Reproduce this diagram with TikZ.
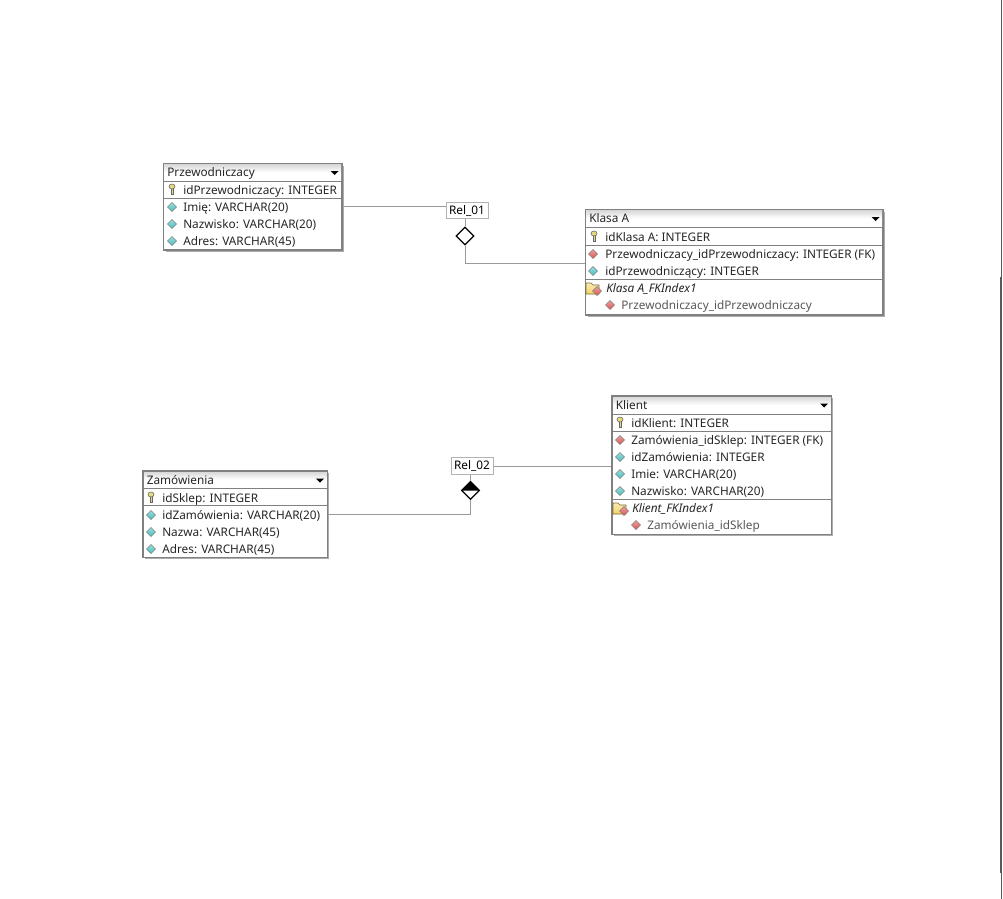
\documentclass[tikz,border=0pt]{standalone}
\usepackage{fontspec}
\setmainfont{Noto Sans}
\usetikzlibrary{fit,shapes.geometric}
\definecolor{attrcol}{HTML}{48C0C0}
\definecolor{fkcol}{HTML}{DC5450}
\definecolor{keycol}{HTML}{E4D880}
\definecolor{foldercol}{HTML}{F4D468}
\definecolor{linecol}{HTML}{9A9A9A}

\newcommand{\attricon}[3]{\draw[top color=#3!55, bottom color=#3, draw=gray, line width=0.4pt] (#1-4.5,#2) -- (#1,#2-4.5) -- (#1+4.5,#2) -- (#1,#2+4.5) -- cycle;}
\newcommand{\keyicon}[2]{\draw[fill=keycol, draw=black!60, line width=0.4pt] (#1-1.2,#2-1) -- (#1-1.2,#2+5) -- (#1+1.2,#2+5) -- (#1+1.2,#2-1) -- cycle; \draw[fill=keycol, draw=black!60, line width=0.4pt] (#1,#2-2.5) ellipse (3 and 2.5);}
\newcommand{\foldericon}[2]{\draw[top color=foldercol!50, bottom color=foldercol, draw=black!50!foldercol, line width=0.4pt] (#1-7,#2-5) -- (#1-2,#2-5) -- (#1,#2-3) -- (#1+6,#2-3) -- (#1+6,#2+6) -- (#1-7,#2+6) -- cycle; \attricon{#1+4}{#2+3}{fkcol}}

% name, left, top, right, bottom, title bottom, title
\newcommand{\dbtable}[7]{
  \fill[gray!65] (#2+2,#3+2) rectangle (#4+1.7,#5+1.7);
  \node[tablebox, fit={(#2,#3) (#4,#5)}] (#1) {};
  \shade[top color=gray!30, bottom color=white, middle color=white] (#2+1,#3+1) rectangle (#4-1,#6-1);
  \draw[sepline] (#2,#6) -- (#4,#6);
  \node[rowtext] (#1title) at (#2+3.5,#3+9.5) {#7};
  \fill (#4-11.5,#3+7.5) -- (#4-3.5,#3+7.5) -- (#4-7.5,#3+11.5) -- cycle;
}
\newcommand{\dbrow}[5]{\node[rowtext, #5] (#1) at (#2,#3) {#4};}

\begin{document}
\begin{tikzpicture}[x=0.75pt, y=-0.75pt,
        tablebox/.style = {draw=gray, line width=0.8pt, fill=white, inner sep=0pt},
        rowtext/.style = {anchor=west, inner sep=0pt, text height=7.5pt, text depth=2pt, font=\fontsize{8.85}{10}\selectfont, text=black!85},
        childtext/.style = {text=black!65},
        idxtext/.style = {font=\fontsize{8.85}{10}\selectfont\itshape},
        sepline/.style = {draw=gray, line width=0.6pt},
        relline/.style = {draw=linecol, line width=0.75pt},
        relbox/.style = {draw=gray!60, line width=0.75pt, fill=white, minimum width=31.5pt, minimum height=12.5pt, inner sep=0pt, font=\fontsize{8.85}{10}\selectfont},
        reldiamond/.style = {diamond, draw=black, line width=1pt, fill=white, minimum width=13.5pt, minimum height=13.5pt, inner sep=0pt, aspect=1}]
  \useasboundingbox (0,0) rectangle (1003,899);
  \fill[white] (0,0) rectangle (1003,899);

  % Przewodniczacy
  \dbtable{przew}{163.5}{163.5}{342}{250}{181}{Przewodniczacy}
  \draw[sepline] (163.5,198) -- (342,198);
  \keyicon{172}{189}
  \dbrow{przewId}{183}{190.5}{idPrzewodniczacy: INTEGER}{}
  \attricon{172}{207}{attrcol}
  \dbrow{przewImie}{183}{207.5}{Imię: VARCHAR(20)}{}
  \attricon{172}{224}{attrcol}
  \dbrow{przewNazw}{183}{224.5}{Nazwisko: VARCHAR(20)}{}
  \attricon{172}{241}{attrcol}
  \dbrow{przewAdr}{183}{241.5}{Adres: VARCHAR(45)}{}

  % Klasa A
  \dbtable{klasa}{585.5}{209.5}{883}{315}{227}{Klasa A}
  \draw[sepline] (585.5,245) -- (883,245);
  \draw[sepline] (585.5,279) -- (883,279);
  \keyicon{594}{236}
  \dbrow{klasaId}{605}{237.5}{idKlasa A: INTEGER}{}
  \attricon{593}{254}{fkcol}
  \dbrow{klasaFk}{605}{254.5}{Przewodniczacy\_idPrzewodniczacy: INTEGER (FK)}{}
  \attricon{593}{271}{attrcol}
  \dbrow{klasaPrz}{605}{271.5}{idPrzewodniczący: INTEGER}{}
  \foldericon{593}{288}
  \dbrow{klasaIdx}{606}{288.5}{Klasa A\_FKIndex1}{idxtext}
  \attricon{610}{305}{fkcol}
  \dbrow{klasaCol}{621}{305.5}{Przewodniczacy\_idPrzewodniczacy}{childtext}

  % Zamowienia
  \dbtable{zam}{143}{471}{327.5}{557.5}{488}{Zamówienia}
  \draw[sepline] (143,505.5) -- (327.5,505.5);
  \keyicon{151}{497}
  \dbrow{zamId}{162}{498.5}{idSklep: INTEGER}{}
  \attricon{151}{515}{attrcol}
  \dbrow{zamZam}{162}{515.5}{idZamówienia: VARCHAR(20)}{}
  \attricon{151}{532}{attrcol}
  \dbrow{zamNazwa}{162}{532.5}{Nazwa: VARCHAR(45)}{}
  \attricon{151}{549}{attrcol}
  \dbrow{zamAdr}{162}{549.5}{Adres: VARCHAR(45)}{}

  % Klient
  \dbtable{klient}{612}{396}{831.5}{534.5}{414}{Klient}
  \draw[sepline] (612,431.5) -- (831.5,431.5);
  \draw[sepline] (612,499) -- (831.5,499);
  \keyicon{620}{422}
  \dbrow{klientId}{631}{423.5}{idKlient: INTEGER}{}
  \attricon{620}{440}{fkcol}
  \dbrow{klientFk}{631}{440.5}{Zamówienia\_idSklep: INTEGER (FK)}{}
  \attricon{620}{457}{attrcol}
  \dbrow{klientZam}{631}{457.5}{idZamówienia: INTEGER}{}
  \attricon{620}{474}{attrcol}
  \dbrow{klientImie}{631}{474.5}{Imie: VARCHAR(20)}{}
  \attricon{620}{491}{attrcol}
  \dbrow{klientNazw}{631}{491.5}{Nazwisko: VARCHAR(20)}{}
  \foldericon{620}{508}
  \dbrow{klientIdx}{632}{508.5}{Klient\_FKIndex1}{idxtext}
  \attricon{636}{525}{fkcol}
  \dbrow{klientCol}{647}{525.5}{Zamówienia\_idSklep}{childtext}

  % relations
  \node[relbox] (rel01) at (467,210.5) {Rel\_01};
  \node[reldiamond] (dia01) at (465,236) {};
  \draw[relline] (przew.east) -- (przew.east -| rel01.west);
  \draw[relline] (dia01.north) -- (rel01.south -| dia01.north);
  \draw[relline] (dia01.south) |- ([yshift=-0.75pt]klasa.west);

  \node[relbox] (rel02) at (472,466) {Rel\_02};
  \node[reldiamond] (dia02) at (470.5,490.5) {};
  \fill (dia02.west) -- (dia02.north) -- (dia02.east) -- cycle;
  \draw[relline] (rel02.east) -- (rel02.east -| klient.west);
  \draw[relline] (dia02.north) -- (rel02.south -| dia02.north);
  \draw[relline] (dia02.south) |- (zam.east);

  % window edge
  \draw[gray!70!black, line width=0.75pt] (1001,0) -- (1001,899);
  \draw[gray!70!black, line width=1.6pt] (1001.3,277) -- (1001.3,873);
\end{tikzpicture}
\end{document}
